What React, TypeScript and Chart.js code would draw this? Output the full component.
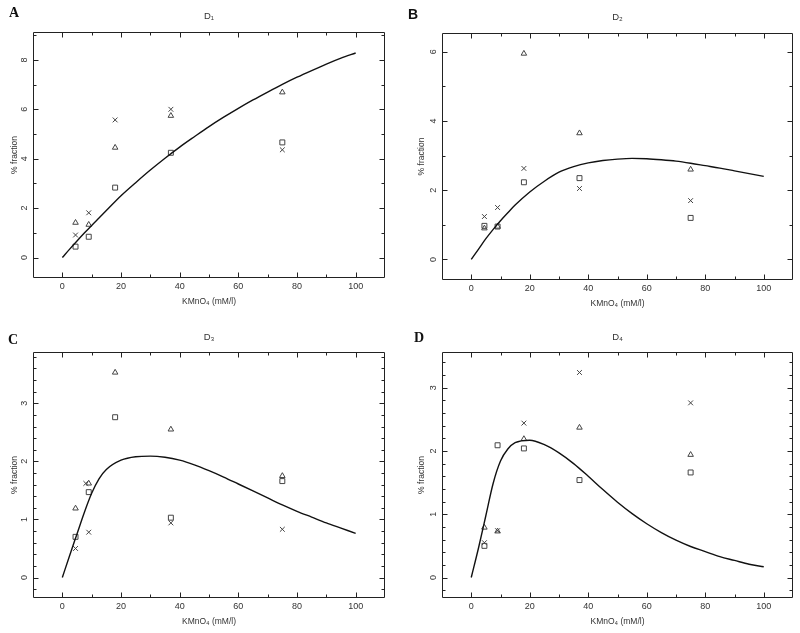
import React, { useEffect, useRef } from "react";
import { Chart, registerables } from "chart.js";

Chart.register(...registerables);

// ---------- data ----------
const conc = [4.5, 9, 18, 37, 75];
const curveX = [0, 2.5, 5, 7.5, 10, 12.5, 15, 20, 25, 30, 35, 40, 45, 50, 55, 60, 65, 70, 75, 80, 85, 90, 95, 100];
const xTickLabels = [0, 20, 40, 60, 80, 100];

// Panel A – D1
const d1Triangle = [1.41, 1.33, 4.45, 5.74, 6.69];
const d1Cross = [0.91, 1.81, 5.57, 6.0, 4.36];
const d1Square = [0.44, 0.84, 2.83, 4.24, 4.66];
const d1Fit = [0, 0.34, 0.67, 0.99, 1.3, 1.6, 1.9, 2.5, 3.03, 3.54, 4.02, 4.47, 4.89, 5.3, 5.68, 6.04, 6.38, 6.7, 7.01, 7.3, 7.57, 7.83, 8.07, 8.28];
const d1YTicks = [0, 2, 4, 6, 8];

// Panel B – D2
const d2Triangle = [0.9, 0.95, 5.95, 3.65, 2.6];
const d2Cross = [1.24, 1.5, 2.63, 2.05, 1.7];
const d2Square = [0.97, 0.95, 2.23, 2.35, 1.2];
const d2Fit = [0, 0.3, 0.6, 0.87, 1.12, 1.35, 1.57, 1.95, 2.26, 2.52, 2.68, 2.79, 2.86, 2.9, 2.92, 2.91, 2.88, 2.84, 2.78, 2.71, 2.64, 2.56, 2.48, 2.4];
const d2YTicks = [0, 2, 4, 6];

// Panel C – D3
const d3Triangle = [1.19, 1.62, 3.53, 2.55, 1.75];
const d3CrossX = [4.5, 8, 9, 37, 75];
const d3Cross = [0.5, 1.62, 0.78, 0.94, 0.83];
const d3Square = [0.7, 1.47, 2.76, 1.03, 1.66];
const d3Fit = [0, 0.38, 0.75, 1.12, 1.45, 1.7, 1.86, 2.02, 2.08, 2.09, 2.07, 2.02, 1.94, 1.84, 1.73, 1.61, 1.49, 1.37, 1.25, 1.14, 1.04, 0.94, 0.85, 0.76];
const d3YTicks = [0, 1, 2, 3];

// Panel D – D4
const d4Triangle = [0.79, 0.73, 2.19, 2.37, 1.94];
const d4Cross = [0.55, 0.74, 2.44, 3.24, 2.76];
const d4Square = [0.5, 2.09, 2.04, 1.54, 1.66];
const d4Fit = [0, 0.47, 0.98, 1.49, 1.84, 2.03, 2.13, 2.17, 2.1, 1.97, 1.8, 1.6, 1.39, 1.19, 1.01, 0.85, 0.71, 0.59, 0.49, 0.41, 0.33, 0.27, 0.21, 0.17];
const d4YTicks = [0, 1, 2, 3];

// ---------- layout ----------
const FONT = "'Liberation Sans', Arial, Helvetica, sans-serif";
const TEXT = "#333";
const MARK = "#444";

type Panel = {
  key: string;
  letter: string;
  letterFont: string;
  letterLeft: number;
  letterTop: number;
  left: number;
  top: number;
  h: number;
  area: { l: number; r: number; t: number; b: number };
  titleY: number;
  yTitleX: number;
  title: string;
  tri: number[];
  crossX: number[];
  cross: number[];
  square: number[];
  fit: number[];
  yMin: number;
  yMax: number;
  yTicks: number[];
  yMajorStep: number;
  yMinorStep: number;
};

const SERIF = "'Liberation Serif', 'Times New Roman', serif";

const panels: Panel[] = [
  {
    key: "A", letter: "A", letterFont: SERIF, letterLeft: 9, letterTop: 6,
    left: 0, top: 0, h: 316, area: { l: 33, r: 385, t: 32, b: 278 }, titleY: 16, yTitleX: 15,
    title: "D\u2081", tri: d1Triangle, crossX: conc, cross: d1Cross, square: d1Square, fit: d1Fit,
    yMin: -0.83, yMax: 9.13, yTicks: d1YTicks, yMajorStep: 2, yMinorStep: 1,
  },
  {
    key: "B", letter: "B", letterFont: "'Liberation Sans', Arial, sans-serif", letterLeft: 408, letterTop: 7,
    left: 400, top: 0, h: 316, area: { l: 42, r: 393, t: 33, b: 280 }, titleY: 17, yTitleX: 22,
    title: "D\u2082", tri: d2Triangle, crossX: conc, cross: d2Cross, square: d2Square, fit: d2Fit,
    yMin: -0.595, yMax: 6.545, yTicks: d2YTicks, yMajorStep: 2, yMinorStep: 1,
  },
  {
    key: "C", letter: "C", letterFont: SERIF, letterLeft: 8, letterTop: 333,
    left: 0, top: 316, h: 317, area: { l: 33, r: 385, t: 36, b: 282 }, titleY: 21, yTitleX: 15,
    title: "D\u2083", tri: d3Triangle, crossX: d3CrossX, cross: d3Cross, square: d3Square, fit: d3Fit,
    yMin: -0.353, yMax: 3.883, yTicks: d3YTicks, yMajorStep: 1, yMinorStep: 0.2,
  },
  {
    key: "D", letter: "D", letterFont: SERIF, letterLeft: 414, letterTop: 331,
    left: 400, top: 316, h: 317, area: { l: 42, r: 393, t: 36, b: 282 }, titleY: 21, yTitleX: 22,
    title: "D\u2084", tri: d4Triangle, crossX: conc, cross: d4Cross, square: d4Square, fit: d4Fit,
    yMin: -0.324, yMax: 3.564, yTicks: d4YTicks, yMajorStep: 1, yMinorStep: 0.2,
  },
];

// frame + inward ticks on all four sides
const frameTicks = {
  id: "frameTicks",
  afterDatasetsDraw(chart: any, _args: any, opts: any) {
    const { ctx, chartArea } = chart;
    const { left, right, top, bottom } = chartArea;
    const xs = chart.scales.x;
    const ys = chart.scales.y;
    ctx.save();
    ctx.strokeStyle = "#222";
    ctx.lineWidth = 1;
    const L = Math.round(left) + 0.5;
    const R = Math.round(right) - 0.5;
    const T = Math.round(top) + 0.5;
    const B = Math.round(bottom) - 0.5;
    ctx.beginPath();
    ctx.rect(L, T, R - L, B - T);
    ctx.stroke();
    const eps = 1e-6;
    ctx.beginPath();
    for (let v = 0; v <= 100 + eps; v += 10) {
      const px = Math.round(xs.getPixelForValue(v)) + 0.5;
      const len = Math.abs(v / 20 - Math.round(v / 20)) < eps ? 5 : 3;
      ctx.moveTo(px, B); ctx.lineTo(px, B - len);
      ctx.moveTo(px, T); ctx.lineTo(px, T + len);
    }
    const step = opts.minorStep;
    const major = opts.majorStep;
    const start = Math.ceil(opts.min / step) * step;
    for (let i = 0; ; i++) {
      const v = start + i * step;
      if (v > opts.max) break;
      const py = Math.round(ys.getPixelForValue(v)) + 0.5;
      if (py <= T + 1 || py >= B - 1) continue;
      const len = Math.abs(v / major - Math.round(v / major)) < 1e-4 ? 5 : 3;
      ctx.moveTo(L, py); ctx.lineTo(L + len, py);
      ctx.moveTo(R, py); ctx.lineTo(R - len, py);
    }
    ctx.stroke();
    ctx.restore();
  },
};

function makeConfig(p: Panel): any {
  const pts = (xs: number[], ys: number[]) => xs.map((x, i) => ({ x, y: ys[i] }));
  const zeroPad = (s: any) => {
    s.paddingLeft = 0; s.paddingRight = 0; s.paddingTop = 0; s.paddingBottom = 0;
  };
  const marker = (label: string, style: string, data: any[], radius: number) => ({
    label, data, pointStyle: style, pointRadius: radius, pointHoverRadius: radius,
    borderColor: MARK, backgroundColor: "rgba(0,0,0,0)", pointBorderWidth: 1, showLine: false,
  });
  return {
    type: "scatter",
    data: {
      datasets: [
        {
          label: "fit", data: pts(curveX, p.fit), showLine: true, borderColor: "#111", borderWidth: 1.4,
          pointRadius: 0, cubicInterpolationMode: "monotone", fill: false,
        },
        marker("triangle", "triangle", pts(conc, p.tri), 3.2),
        marker("cross", "crossRot", pts(p.crossX, p.cross), 3.4),
        marker("square", "rect", pts(conc, p.square), 3.5),
      ],
    },
    options: {
      responsive: false,
      animation: false,
      events: [],
      layout: { padding: { left: 0, top: 0, right: 400 - p.area.r, bottom: 0 } },
      plugins: {
        legend: { display: false },
        tooltip: { enabled: false },
        title: {
          display: true, text: p.title, fullSize: false, color: TEXT,
          font: { size: 9.5, family: FONT, weight: "normal", lineHeight: 1.2 },
          padding: { top: p.titleY - 5.7, bottom: p.area.t - p.titleY - 5.7 },
        },
        frameTicks: { min: p.yMin, max: p.yMax, majorStep: p.yMajorStep, minorStep: p.yMinorStep },
      },
      scales: {
        x: {
          type: "linear", min: -10, max: 110,
          grid: { display: false, drawTicks: false }, border: { display: false },
          afterBuildTicks: (s: any) => { s.ticks = xTickLabels.map((v) => ({ value: v })); },
          afterFit: (s: any) => { s.height = p.h - p.area.b; zeroPad(s); },
          ticks: { autoSkip: false, minRotation: 0, maxRotation: 0, padding: 3.5, color: TEXT, font: { size: 9, family: FONT, lineHeight: 1.2 } },
          title: {
            display: true, text: "KMnO\u2084 (mM/l)", color: TEXT,
            font: { size: 8.5, family: FONT, lineHeight: 1.2 },
            padding: { top: 0, bottom: p.h - p.area.b - 24 - 5.1 },
          },
        },
        y: {
          type: "linear", min: p.yMin, max: p.yMax,
          grid: { display: false, drawTicks: false }, border: { display: false },
          afterBuildTicks: (s: any) => { s.ticks = p.yTicks.map((v) => ({ value: v })); },
          afterFit: (s: any) => { s.width = p.area.l; zeroPad(s); },
          ticks: {
            autoSkip: false, minRotation: 90, maxRotation: 90, crossAlign: "center", padding: (p.area.l - p.yTitleX) > 20 ? 6.5 : 5.5,
            color: TEXT, font: { size: 9, family: FONT, lineHeight: 1.2 },
          },
          title: {
            display: true, text: "% fraction", color: TEXT,
            font: { size: 8.5, family: FONT, lineHeight: 1.2 },
            padding: { top: p.yTitleX - 5.1, bottom: 0 },
          },
        },
      },
    },
    plugins: [frameTicks],
  };
}

function PanelChart({ p }: { p: Panel }) {
  const ref = useRef<HTMLCanvasElement | null>(null);
  useEffect(() => {
    if (!ref.current) return;
    const chart = new Chart(ref.current, makeConfig(p));
    return () => chart.destroy();
  }, [p]);
  return (
    <div style={{ position: "absolute", left: p.left, top: p.top, width: 400, height: p.h }}>
      <canvas ref={ref} width={400} height={p.h} style={{ display: "block", width: 400, height: p.h }} />
    </div>
  );
}

export default function App() {
  return (
    <div style={{ position: "absolute", left: 0, top: 0, width: 800, height: 633, overflow: "hidden", background: "#fff" }}>
      {panels.map((p) => (
        <PanelChart key={p.key} p={p} />
      ))}
      {panels.map((p) => (
        <div
          key={"l" + p.key}
          style={{
            position: "absolute", left: p.letterLeft, top: p.letterTop, fontFamily: p.letterFont,
            fontWeight: "bold", fontSize: 14, lineHeight: "14px", color: "#111",
          }}
        >
          {p.letter}
        </div>
      ))}
    </div>
  );
}
